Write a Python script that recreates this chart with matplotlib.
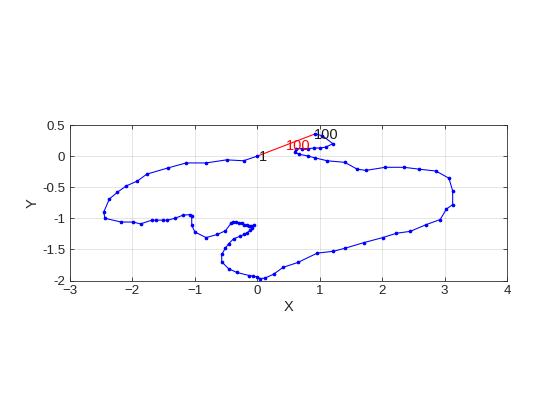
import matplotlib
matplotlib.use("Agg")
import matplotlib.pyplot as plt

plt.rcParams['font.family'] = ['Liberation Sans', 'DejaVu Sans']

x = [0.00, -0.22, -0.49, -0.82, -1.14, -1.43, -1.77, -1.92, -2.10, -2.24,
     -2.37, -2.46, -2.44, -2.18, -1.99, -1.87, -1.69, -1.62, -1.51, -1.44,
     -1.32, -1.19, -1.08, -1.05, -1.05, -1.00, -0.82, -0.64, -0.51, -0.42,
     -0.39, -0.345, -0.30, -0.25, -0.215, -0.17, -0.135, -0.10, -0.05, -0.08,
     -0.11, -0.16, -0.215, -0.28, -0.38, -0.46, -0.51, -0.57, -0.57, -0.46,
     -0.33, -0.13, -0.065, -0.01, 0.05, 0.125, 0.26, 0.41, 0.65, 0.96,
     1.22, 1.41, 1.71, 2.01, 2.23, 2.45, 2.71, 2.93, 3.03, 3.13,
     3.13, 3.07, 2.86, 2.59, 2.35, 2.05, 1.74, 1.60, 1.40, 1.12,
     0.93, 0.82, 0.67, 0.60, 0.62, 0.72, 0.81, 0.905, 1.01, 1.10,
     1.21, 1.04, 0.92]
y = [0.00, -0.075, -0.06, -0.11, -0.11, -0.19, -0.29, -0.40, -0.48, -0.58,
     -0.69, -0.90, -1.00, -1.06, -1.06, -1.09, -1.03, -1.03, -1.03, -1.03,
     -1.00, -0.95, -0.94, -0.97, -1.11, -1.22, -1.31, -1.26, -1.20, -1.08,
     -1.06, -1.06, -1.07, -1.08, -1.10, -1.11, -1.12, -1.12, -1.11, -1.15,
     -1.19, -1.23, -1.26, -1.29, -1.33, -1.41, -1.48, -1.58, -1.70, -1.81,
     -1.87, -1.92, -1.93, -1.94, -1.97, -1.96, -1.90, -1.79, -1.71, -1.56,
     -1.53, -1.48, -1.39, -1.31, -1.24, -1.21, -1.10, -1.02, -0.85, -0.78,
     -0.56, -0.355, -0.24, -0.21, -0.18, -0.18, -0.23, -0.21, -0.10, -0.075,
     -0.03, 0.00, 0.03, 0.06, 0.12, 0.12, 0.12, 0.13, 0.13, 0.145,
     0.20, 0.33, 0.355]

start_label = "1"
end_label = "100"
mid_label = "100"

xticks = [-3, -2, -1, 0, 1, 2, 3, 4]
yticks = [-2, -1.5, -1, -0.5, 0, 0.5]
ytick_labels = ["-2", "-1.5", "-1", "-0.5", "0", "0.5"]

fig = plt.figure(figsize=(5.8333, 4.375), dpi=96)
ax = fig.add_axes([70/560, (420-280.5)/420, 437/560, 155.5/420])

ax.plot(x, y, '.-', color=(0, 0, 1), linewidth=0.8, markersize=3.5, zorder=3)
ax.plot([x[0], x[-1]], [y[0], y[-1]], '-', color=(1, 0, 0), linewidth=0.8, zorder=2)

ax.text(x[0] + 0.02, y[0] - 0.02, start_label, ha='left', va='center', fontsize=11, color=(0.1, 0.1, 0.1), zorder=4)
ax.text(x[-1] - 0.02, y[-1] - 0.02, end_label, ha='left', va='center', fontsize=11, color=(0.1, 0.1, 0.1), zorder=4)
ax.text((x[0] + x[-1]) / 2 - 0.01, (y[0] + y[-1]) / 2 - 0.01, mid_label, ha='left', va='center',
        fontsize=11, color='red', zorder=4)

ax.set_xlim(-3, 4)
ax.set_ylim(-2, 0.5)
ax.set_xticks(xticks)
ax.set_yticks(yticks)
ax.set_yticklabels(ytick_labels)
ax.grid(True, color=(0.15, 0.15, 0.15), alpha=0.15, linewidth=0.6)
ax.set_axisbelow(True)
ax.tick_params(direction='in', top=True, right=True, length=3, labelsize=10,
               colors=(0.15, 0.15, 0.15), width=0.6)
for s in ax.spines.values():
    s.set_color((0.15, 0.15, 0.15))
    s.set_linewidth(0.6)
ax.set_xlabel("X", fontsize=11, color=(0.15, 0.15, 0.15), labelpad=2)
ax.set_ylabel("Y", fontsize=11, color=(0.15, 0.15, 0.15), labelpad=2)

fig.savefig("out.png", dpi=96)
